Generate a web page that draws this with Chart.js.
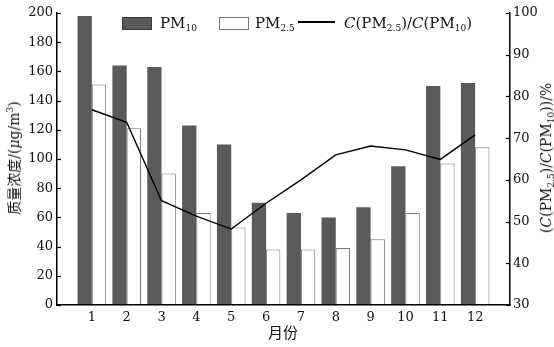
<!DOCTYPE html>
<html>
<head>
<meta charset="utf-8">
<script src="https://cdn.jsdelivr.net/npm/chart.js@4.4.1/dist/chart.umd.min.js"></script>
<style>
  body { margin: 0; background: #fff; }
  #marco { position: relative; width: 554px; height: 347px; font-family: "DejaVu Serif", "Noto Sans CJK SC", serif; color: #111; }
  #marco canvas { position: absolute; left: 0; top: 0; }
  .txt { position: absolute; white-space: nowrap; line-height: 16px; }
  .txt sub { font-size: 9px; vertical-align: -3px; line-height: 0; }
  .caja { position: absolute; width: 30px; height: 13px; box-sizing: border-box; }
  .rot { position: absolute; white-space: nowrap; transform: translate(-50%, -50%) rotate(-90deg); line-height: 16px; }
  .rot sub { font-size: 9px; vertical-align: -3px; line-height: 0; }
</style>
</head>
<body>
<div id="marco">
  <canvas id="grafico" width="554" height="347"></canvas>

  <!-- leyenda -->
  <div class="caja" style="left:122px; top:17px; background:#5a5a5a; border:1px solid #3a3a3a;"></div>
  <div class="txt" style="left:160px; top:15px; font-size:15px;">PM<sub>10</sub></div>
  <div class="caja" style="left:219px; top:17px; background:#fff; border:1px solid #777;"></div>
  <div class="txt" style="left:255px; top:15px; font-size:15px;">PM<sub>2.5</sub></div>
  <div style="position:absolute; left:298px; top:21px; width:37px; height:1.5px; background:#000;"></div>
  <div class="txt" style="left:344px; top:15px; font-size:15px;"><i>C</i>(PM<sub>2.5</sub>)/<i>C</i>(PM<sub>10</sub>)</div>

  <!-- titulos de ejes -->
  <div class="rot" style="left:14px; top:158px; font-size:14px;">质量浓度/(<i>μ</i>g/m<sup style="font-size:9px; line-height:0;">3</sup>)</div>
  <div class="rot" style="left:546px; top:158px; font-size:14px;">(<i>C</i>(PM<sub>2.5</sub>)/<i>C</i>(PM<sub>10</sub>))/%</div>
  <div class="txt" style="left:283px; top:324px; font-size:15px; transform:translateX(-50%); font-family:'Noto Sans CJK SC', sans-serif;">月份</div>
</div>

<script>
const meses = ["1", "2", "3", "4", "5", "6", "7", "8", "9", "10", "11", "12"];
const pm10 = [198, 164, 163, 123, 110, 70, 63, 60, 67, 95, 150, 152];
const pm25 = [151, 121, 90, 63, 53, 38, 38, 39, 45, 63, 97, 108];
const razon = [76.8, 73.8, 55.0, 51.3, 48.2, 54.4, 60.0, 66.0, 68.1, 67.2, 64.9, 70.8];
const ticksIzq = [0, 20, 40, 60, 80, 100, 120, 140, 160, 180, 200];
const ticksDer = [30, 40, 50, 60, 70, 80, 90, 100];

// un hueco vacio a cada lado, asi el eje va de 0 a 13
const conBordes = (arr, vacio) => [vacio, ...arr, vacio];

const fuenteTicks = { family: "'DejaVu Serif', serif", size: 13 };
const sinRejilla = { display: false, drawTicks: false, tickLength: 0 };
// borde por encima de las barras
const bordeEje = { color: "#000", width: 1.5, z: 1 };

const marcasInternas = {
  id: "marcasInternas",
  afterDraw(chart) {
    const { ctx, chartArea, scales } = chart;
    ctx.save();
    ctx.strokeStyle = "#000";
    ctx.lineWidth = 1.2;
    scales.y.ticks.forEach((t) => {
      const py = Math.round(scales.y.getPixelForValue(t.value)) + 0.5;
      ctx.beginPath();
      ctx.moveTo(chartArea.left, py);
      ctx.lineTo(chartArea.left + 4, py);
      ctx.stroke();
    });
    scales.y1.ticks.forEach((t) => {
      const py = Math.round(scales.y1.getPixelForValue(t.value)) + 0.5;
      ctx.beginPath();
      ctx.moveTo(chartArea.right, py);
      ctx.lineTo(chartArea.right - 4, py);
      ctx.stroke();
    });
    ctx.restore();
  },
};

const config = {
  type: "bar",
  data: {
    labels: conBordes(meses, ""),
    datasets: [
      {
        type: "line",
        label: "C(PM2.5)/C(PM10)",
        data: conBordes(razon, null),
        yAxisID: "y1",
        borderColor: "#000",
        borderWidth: 1.4,
        pointRadius: 0,
        tension: 0,
        spanGaps: false,
        order: 0,
      },
      {
        label: "PM10",
        data: conBordes(pm10, null),
        yAxisID: "y",
        backgroundColor: "#5a5a5a",
        borderWidth: 0,
        categoryPercentage: 0.82,
        barPercentage: 1.0,
        order: 1,
      },
      {
        label: "PM2.5",
        data: conBordes(pm25, null),
        yAxisID: "y",
        backgroundColor: "#fff",
        borderColor: "#777",
        borderWidth: 1,
        categoryPercentage: 0.82,
        barPercentage: 1.0,
        order: 1,
      },
    ],
  },
  options: {
    responsive: false,
    animation: false,
    devicePixelRatio: 1,
    layout: { padding: { top: 13, left: 0, right: 0, bottom: 0 } },
    plugins: { legend: { display: false }, tooltip: { enabled: false } },
    scales: {
      x: {
        offset: false,
        grid: sinRejilla,
        border: bordeEje,
        ticks: { font: fuenteTicks, color: "#111", padding: 5, maxRotation: 0, autoSkip: false },
        afterFit: (s) => { s.height = 42; },
      },
      y: {
        position: "left",
        min: 0,
        max: 200,
        grid: sinRejilla,
        border: bordeEje,
        ticks: { font: fuenteTicks, color: "#111", padding: 4 },
        afterBuildTicks: (s) => { s.ticks = ticksIzq.map((v) => ({ value: v })); },
        afterFit: (s) => { s.width = 57; },
      },
      y1: {
        position: "right",
        min: 30,
        max: 100,
        grid: sinRejilla,
        border: bordeEje,
        ticks: { font: fuenteTicks, color: "#111", padding: 3 },
        afterBuildTicks: (s) => { s.ticks = ticksDer.map((v) => ({ value: v })); },
        afterFit: (s) => { s.width = 44; },
      },
    },
  },
  plugins: [marcasInternas],
};

new Chart(document.querySelector("#grafico"), config);
</script>
</body>
</html>
